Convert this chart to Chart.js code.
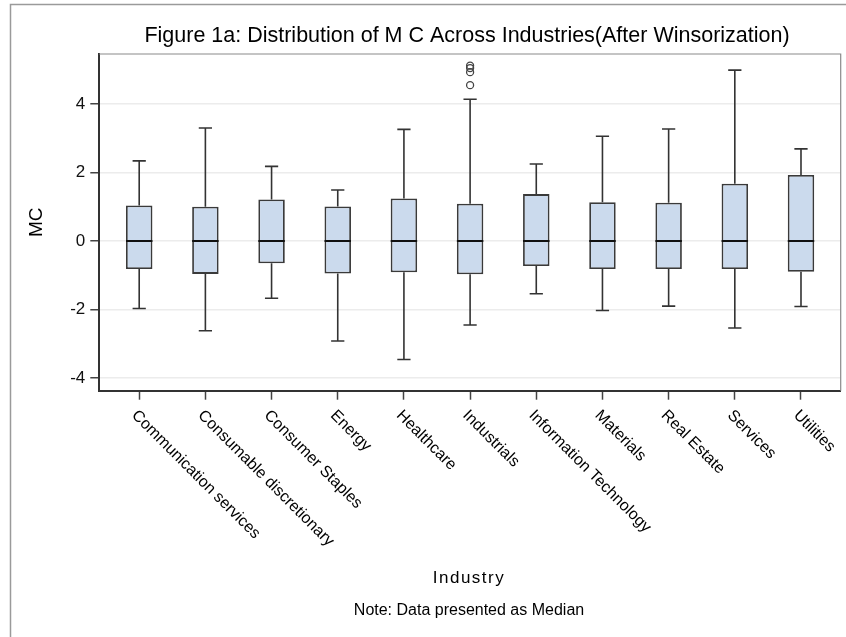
<!DOCTYPE html>
<html>
<head>
<meta charset="utf-8">
<script src="https://cdn.jsdelivr.net/npm/chart.js@4/dist/chart.umd.min.js"></script>
<style>
  html, body { margin: 0; padding: 0; background: #fff; }
  #wrap { width: 846px; height: 637px; position: relative; }
</style>
</head>
<body>
<div id="wrap"><canvas id="myChart"></canvas></div>
<script>
// data
var industries = ["Communication services", "Consumable discretionary", "Consumer Staples", "Energy",
  "Healthcare", "Industrials", "Information Technology", "Materials", "Real Estate", "Services", "Utilities"];
var whiskerLow  = [-1.97, -2.62, -1.67, -2.92, -3.46, -2.45, -1.54, -2.03, -1.90, -2.54, -1.91];
var q1          = [-0.82, -0.96, -0.65, -0.95, -0.91, -0.97, -0.73, -0.82, -0.82, -0.82, -0.90];
var medians     = [0, 0, 0, 0, 0, 0, 0, 0, 0, 0, 0];
var q3          = [1.04, 1.00, 1.21, 1.01, 1.24, 1.09, 1.37, 1.13, 1.12, 1.67, 1.93];
var whiskerHigh = [2.34, 3.30, 2.18, 1.49, 3.26, 4.14, 2.25, 3.06, 3.27, 4.99, 2.69];
var outlierIndustry = [5, 5, 5, 5];
var outlierValues   = [4.55, 4.93, 5.05, 5.12];
var yTicks = [-4, -2, 0, 2, 4];

var FONT = "'Liberation Sans', Arial, sans-serif";

var boxes = industries.map(function(c, i) { return { x: i, y: [q1[i], q3[i]] }; });
var outliers = outlierValues.map(function(v, i) { return { x: outlierIndustry[i], y: v }; });

// whiskers, caps and median lines on top of the boxes
var boxExtras = {
  id: "boxExtras",
  afterDatasetsDraw: function(chart) {
    var ctx = chart.ctx, xs = chart.scales.x, ys = chart.scales.y;
    var half = (xs.getPixelForValue(1) - xs.getPixelForValue(0)) * 0.4 / 2;
    var cap = half * 0.5;
    ctx.save();
    for (var i = 0; i < industries.length; i++) {
      var x = xs.getPixelForValue(i);
      ctx.strokeStyle = "#333";
      ctx.lineWidth = 1.6;
      ctx.beginPath();
      ctx.moveTo(x, ys.getPixelForValue(q3[i]));
      ctx.lineTo(x, ys.getPixelForValue(whiskerHigh[i]));
      ctx.moveTo(x - cap, ys.getPixelForValue(whiskerHigh[i]));
      ctx.lineTo(x + cap, ys.getPixelForValue(whiskerHigh[i]));
      ctx.moveTo(x, ys.getPixelForValue(q1[i]));
      ctx.lineTo(x, ys.getPixelForValue(whiskerLow[i]));
      ctx.moveTo(x - cap, ys.getPixelForValue(whiskerLow[i]));
      ctx.lineTo(x + cap, ys.getPixelForValue(whiskerLow[i]));
      ctx.stroke();
      ctx.strokeStyle = "#111";
      ctx.lineWidth = 2;
      ctx.beginPath();
      ctx.moveTo(x - half, ys.getPixelForValue(medians[i]));
      ctx.lineTo(x + half, ys.getPixelForValue(medians[i]));
      ctx.stroke();
    }
    ctx.restore();
  }
};

// frame, outer border, rotated category labels and texts
var decorations = {
  id: "decorations",
  afterDraw: function(chart) {
    var ctx = chart.ctx, a = chart.chartArea, xs = chart.scales.x;
    ctx.save();
    ctx.strokeStyle = "#9a9a9a";
    ctx.lineWidth = 1.5;
    ctx.beginPath();
    ctx.moveTo(10.5, 637);
    ctx.lineTo(10.5, 4.5);
    ctx.lineTo(846, 4.5);
    ctx.stroke();
    ctx.strokeStyle = "#8a8a8a";
    ctx.lineWidth = 1.2;
    ctx.beginPath();
    ctx.moveTo(a.left, a.top);
    ctx.lineTo(a.right, a.top);
    ctx.lineTo(a.right, a.bottom);
    ctx.stroke();

    ctx.fillStyle = "#000";
    ctx.textAlign = "center";
    ctx.textBaseline = "middle";
    ctx.font = "21.5px " + FONT;
    ctx.fillText("Figure 1a: Distribution of M C Across Industries(After Winsorization)", 467, 36);
    ctx.font = "17px " + FONT;
    ctx.letterSpacing = "1.5px";
    ctx.fillText("Industry", 469, 578);
    ctx.letterSpacing = "0px";
    ctx.font = "16px " + FONT;
    ctx.fillText("Note: Data presented as Median", 469, 611);

    ctx.font = "16px " + FONT;
    ctx.textAlign = "left";
    for (var i = 0; i < industries.length; i++) {
      ctx.save();
      ctx.translate(xs.getPixelForValue(i) - 5, 413);
      ctx.rotate(Math.PI / 4);
      ctx.fillText(industries[i], 0, 0);
      ctx.restore();
    }
    ctx.restore();
  }
};

new Chart("myChart", {
  type: "bar",
  data: {
    datasets: [{
      data: boxes,
      backgroundColor: "#cbdaed",
      borderColor: "#3a3a3a",
      borderWidth: 1.8,
      borderSkipped: false,
      categoryPercentage: 1,
      barPercentage: 0.4
    }, {
      type: "scatter",
      data: outliers,
      pointStyle: "circle",
      pointRadius: 3.5,
      pointBorderWidth: 1.3,
      pointBackgroundColor: "rgba(0,0,0,0)",
      pointBorderColor: "#444"
    }]
  },
  options: {
    responsive: true,
    maintainAspectRatio: false,
    animation: false,
    layout: { padding: { top: 54, right: 4.3, left: 0, bottom: 0 } },
    plugins: { legend: { display: false }, tooltip: { enabled: false }, title: { display: false } },
    scales: {
      x: {
        type: "linear",
        offset: false,
        min: -0.603,
        max: 10.6,
        afterBuildTicks: function(s) { s.ticks = industries.map(function(c, i) { return { value: i }; }); },
        afterFit: function(s) { s.height = 637 - 390.7; },
        ticks: { display: false },
        grid: { offset: false, drawOnChartArea: false, drawTicks: true, tickLength: 9, tickColor: "#444", tickWidth: 1.5 },
        border: { color: "#333", width: 2 }
      },
      y: {
        min: -4.37,
        max: 5.46,
        afterBuildTicks: function(s) { s.ticks = yTicks.map(function(v) { return { value: v }; }); },
        afterFit: function(s) { s.width = 99.3; },
        ticks: { color: "#111", font: { family: FONT, size: 17 }, padding: 5 },
        grid: { color: "#ececec", lineWidth: 1.5, tickLength: 9, tickColor: "#444", tickWidth: 1.5 },
        border: { color: "#333", width: 2 },
        title: { display: true, text: "MC", color: "#000", font: { family: FONT, size: 19 }, padding: { top: 25, bottom: 0 } }
      }
    }
  },
  plugins: [boxExtras, decorations]
});
</script>
</body>
</html>
